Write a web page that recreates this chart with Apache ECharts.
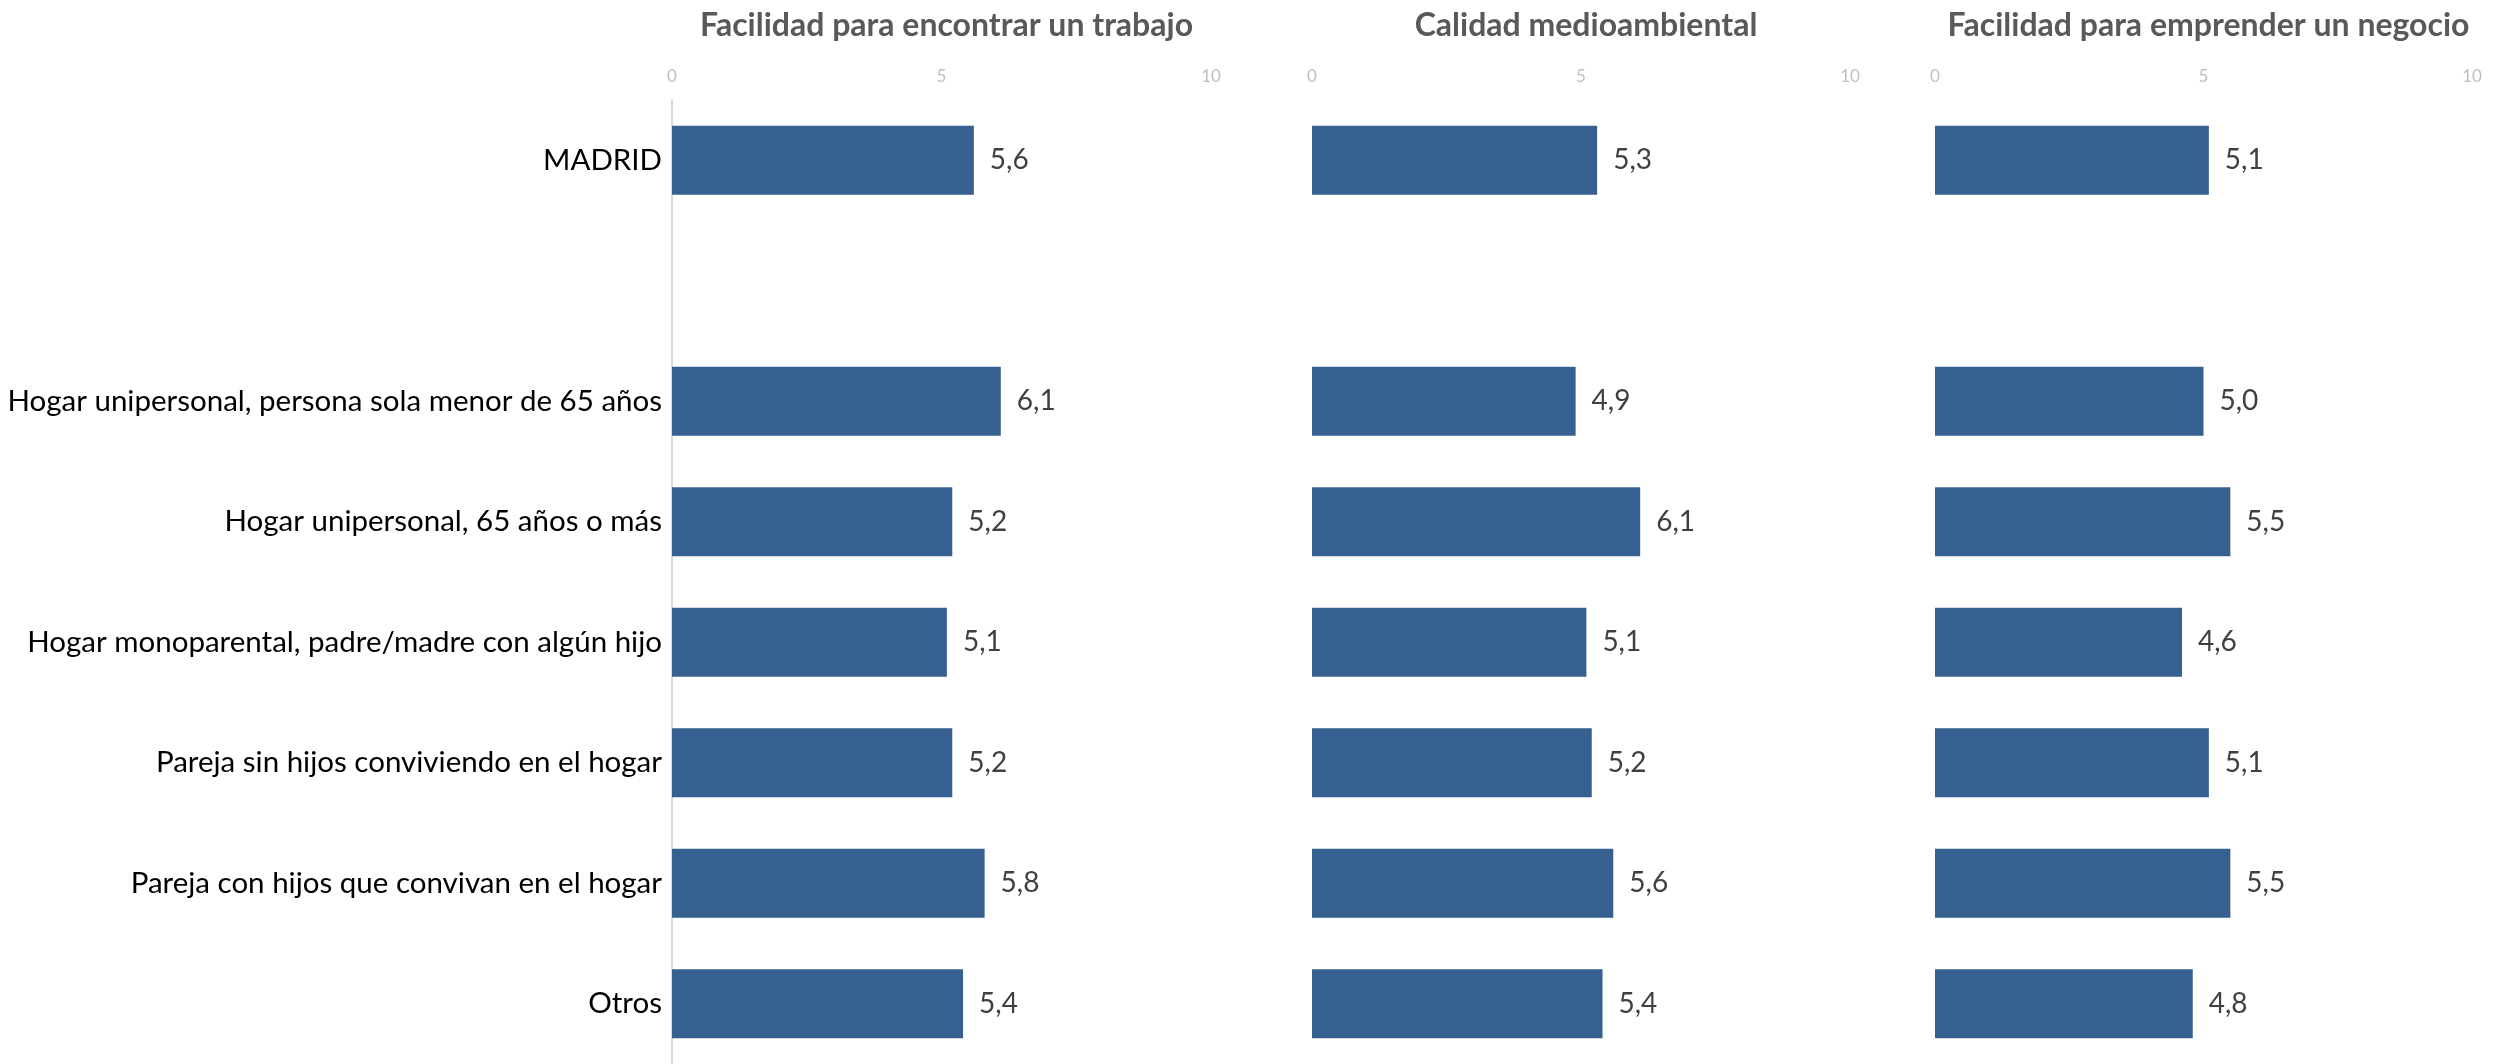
<!DOCTYPE html>
<html>
<head>
<meta charset="utf-8">
<script src="https://cdn.jsdelivr.net/npm/echarts@6/dist/echarts.min.js"></script>
<style>
  html, body { margin: 0; padding: 0; background: #fff; }
  #chart { width: 2501px; height: 1064px; }
</style>
</head>
<body>
<div id="chart"></div>
<script>
// categorias (la segunda va vacia para dejar hueco bajo MADRID)
const categorias = [
    'MADRID',
    ' ',
    'Hogar unipersonal, persona sola menor de 65 años',
    'Hogar unipersonal, 65 años o más',
    'Hogar monoparental, padre/madre con algún hijo',
    'Pareja sin hijos conviviendo en el hogar',
    'Pareja con hijos que convivan en el hogar',
    'Otros'
];
const titulos = ['Facilidad para encontrar un trabajo', 'Calidad medioambiental', 'Facilidad para emprender un negocio'];
const trabajo = [5.6, null, 6.1, 5.2, 5.1, 5.2, 5.8, 5.4];
const medioambiente = [5.3, null, 4.9, 6.1, 5.1, 5.2, 5.6, 5.4];
const negocio = [5.1, null, 5.0, 5.5, 4.6, 5.1, 5.5, 4.8];
const ticks = [0, 5, 10];

const series = [trabajo, medioambiente, negocio];
const lefts = [672, 1312, 1935];
const widths = [539, 538, 537];
const fuente = 'Lato, "Open Sans", sans-serif';

let chart = echarts.init(document.getElementById('chart'));

let option = {
    backgroundColor: '#fff',
    animation: false,
    title: titulos.map(function (t, i) {
        return {
            text: t,
            left: lefts[i] + widths[i] / 2,
            textAlign: 'center',
            top: 5,
            textStyle: {color: '#595959', fontSize: 32, fontWeight: 'bold', fontFamily: fuente}
        };
    }),
    grid: lefts.map(function (l, i) {
        return {left: l, width: widths[i], top: 100, bottom: -5, containLabel: false};
    }),
    xAxis: lefts.map(function (l, i) {
        return {
            type: 'value',
            gridIndex: i,
            position: 'top',
            min: ticks[0],
            max: ticks[ticks.length - 1],
            interval: 5,
            axisLine: {show: false},
            axisTick: {show: false},
            splitLine: {show: false},
            axisLabel: {color: '#bfbfbf', fontSize: 17, fontFamily: fuente, margin: 15}
        };
    }),
    yAxis: lefts.map(function (l, i) {
        return {
            type: 'category',
            gridIndex: i,
            data: categorias,
            inverse: true,
            axisLine: {show: i === 0, lineStyle: {color: '#d9d9d9', width: 2}},
            axisTick: {show: false},
            axisLabel: {
                show: i === 0,
                color: '#000',
                fontSize: 29.5,
                fontFamily: fuente,
                margin: 10
            }
        };
    }),
    series: series.map(function (d, i) {
        return {
            type: 'bar',
            xAxisIndex: i,
            yAxisIndex: i,
            data: d,
            barWidth: 69,
            itemStyle: {color: '#36608f'},
            label: {
                show: true,
                position: 'right',
                distance: 16,
                color: '#404040',
                fontSize: 28,
                fontFamily: fuente,
                formatter: function (p) {
                    return p.value == null ? '' : p.value.toFixed(1).replace('.', ',');
                }
            }
        };
    })
};

chart.setOption(option);
</script>
</body>
</html>
